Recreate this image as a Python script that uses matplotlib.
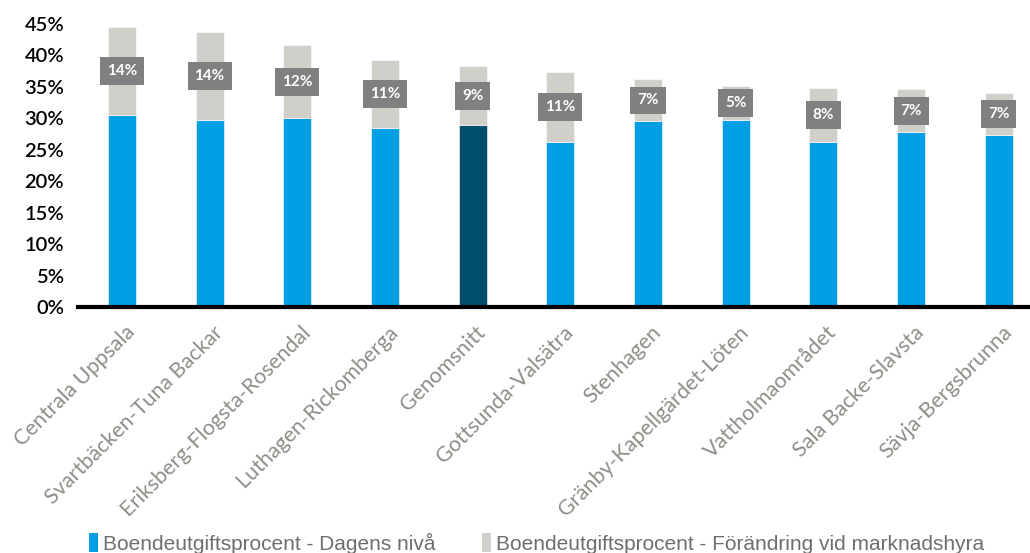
import matplotlib
matplotlib.use('Agg')
import matplotlib.pyplot as plt
from matplotlib.patches import Patch
from matplotlib.ticker import FuncFormatter, MultipleLocator
import matplotlib.transforms as mtransforms

# Areas, ordered by total housing cost share at market rent
areas = [
    "Centrala Uppsala",
    "Svartbäcken-Tuna Backar",
    "Eriksberg-Flogsta-Rosendal",
    "Luthagen-Rickomberga",
    "Genomsnitt",
    "Gottsunda-Valsätra",
    "Stenhagen",
    "Gränby-Kapellgärdet-Löten",
    "Vattholmaområdet",
    "Sala Backe-Slavsta",
    "Sävja-Bergsbrunna",
]
# Housing cost share today (%)
current_level = [30.6, 29.8, 30.0, 28.5, 28.9, 26.2, 29.5, 29.8, 26.3, 27.8, 27.4]
# Increase if rents move to market level (percentage points)
market_change = [13.9, 13.9, 11.6, 10.7, 9.4, 11.1, 6.7, 5.3, 8.5, 6.8, 6.6]

highlight = "Genomsnitt"

BLUE = "#009FE3"
DARK_BLUE = "#004E6E"
GREY = "#D0CFCA"
BOX_GREY = "#808080"

plt.rcParams['font.family'] = ['Lato', 'DejaVu Sans']

fig = plt.figure(figsize=(10.30, 5.53), dpi=100)
ax = fig.add_axes([78 / 1030, 1 - 307 / 553, 11 * 87.7 / 1030, (307 - 24) / 553])

x = list(range(len(areas)))
base_colors = [DARK_BLUE if a == highlight else BLUE for a in areas]

ax.bar(x, current_level, width=0.32, color=base_colors, edgecolor='white', linewidth=0.4)
ax.bar(x, market_change, bottom=current_level, width=0.32, color=GREY,
       edgecolor='white', linewidth=0.4)

# value boxes in the middle of the grey segment
for xi, base, change in zip(x, current_level, market_change):
    ax.text(xi, base + change / 2, f"{change:.0f}%", ha='center', va='center',
            color='white', fontsize=11, fontweight='bold',
            bbox=dict(boxstyle='square,pad=0.45', facecolor=BOX_GREY, edgecolor='none'))

ax.set_xlim(-0.5, len(areas) - 0.5)
ax.set_ylim(0, 45)
ax.yaxis.set_major_locator(MultipleLocator(5))
ax.yaxis.set_major_formatter(FuncFormatter(lambda v, p: f"{v:.0f}%"))

for side in ['left', 'right', 'top']:
    ax.spines[side].set_visible(False)
ax.spines['bottom'].set_linewidth(3)
ax.spines['bottom'].set_color('black')

ax.tick_params(axis='y', length=0, pad=10, labelsize=14.5, labelcolor='black')
ax.tick_params(axis='x', length=0, pad=8)
for lbl in ax.get_yticklabels():
    lbl.set_fontweight('semibold')

ax.set_xticks(x)
ax.set_xticklabels(areas, rotation=45, ha='right', rotation_mode='anchor',
                   fontsize=15.5, color='#8E8E88')
offset = mtransforms.ScaledTranslation(3 / 100, -4 / 100, fig.dpi_scale_trans)
for lbl in ax.get_xticklabels():
    lbl.set_transform(lbl.get_transform() + offset)

handles = [
    Patch(facecolor=BLUE, edgecolor='none'),
    Patch(facecolor=GREY, edgecolor='none'),
]
fig.legend(handles,
           ["Boendeutgiftsprocent - Dagens nivå",
            "Boendeutgiftsprocent - Förändring vid marknadshyra"],
           loc='lower left', bbox_to_anchor=(70 / 1030, -0.035), ncol=2,
           frameon=False, handlelength=0.45, handleheight=1.0, handletextpad=0.25,
           columnspacing=2.2, labelcolor='#6E6E6E',
           prop={'family': ['Liberation Sans', 'DejaVu Sans'], 'size': 15})

fig.savefig("out.png", dpi=100)
